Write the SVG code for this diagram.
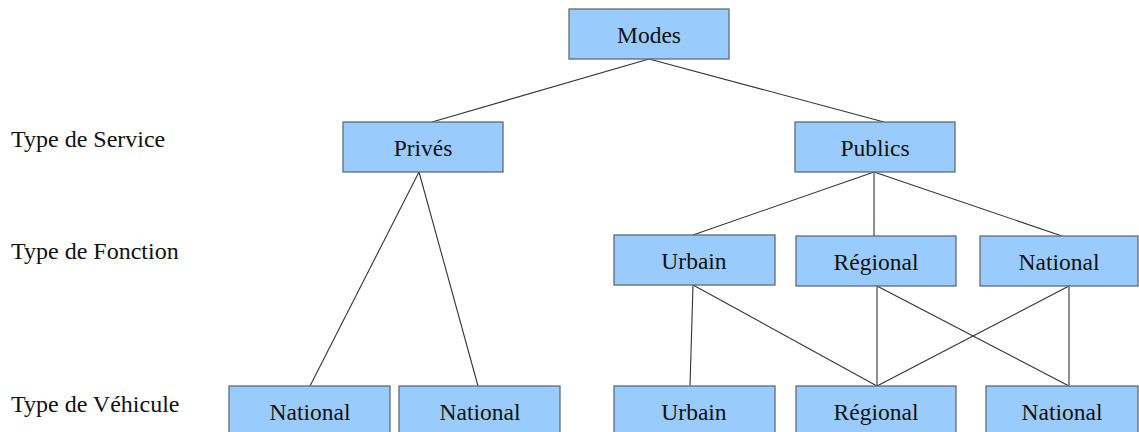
<svg xmlns="http://www.w3.org/2000/svg" width="1139" height="432" viewBox="0 0 1139 432">
<style>
.box{fill:#99ccfd;stroke:#5f6b78;stroke-width:1.3}
.t{font-family:'Liberation Serif', 'Times New Roman', serif;font-size:23.5px;fill:#111}
.lb{font-size:24px}
.c{text-anchor:middle}
.ln{stroke:#333;stroke-width:1.1;fill:none}
</style>
<rect width="1139" height="432" fill="#fff"/>
<g id="labels">
<text class="t lb" x="11" y="147">Type de Service</text>
<text class="t lb" x="11" y="259">Type de Fonction</text>
<text class="t lb" x="11" y="412">Type de Véhicule</text>
</g>
<g id="connectors">
<line class="ln" x1="649" y1="59" x2="432" y2="122"/>
<line class="ln" x1="649" y1="59" x2="884" y2="122"/>
<line class="ln" x1="874" y1="172" x2="693" y2="235"/>
<line class="ln" x1="874" y1="172" x2="874" y2="236"/>
<line class="ln" x1="874" y1="172" x2="1062" y2="236"/>
<line class="ln" x1="419" y1="172" x2="310" y2="386"/>
<line class="ln" x1="419" y1="172" x2="478" y2="386"/>
<line class="ln" x1="693" y1="285" x2="690" y2="386"/>
<line class="ln" x1="693" y1="285" x2="877" y2="386"/>
<line class="ln" x1="877" y1="286" x2="877" y2="386"/>
<line class="ln" x1="877" y1="286" x2="1069" y2="386"/>
<line class="ln" x1="1069" y1="286" x2="877" y2="386"/>
<line class="ln" x1="1069" y1="286" x2="1069" y2="386"/>
</g>
<g id="modes"><rect class="box" x="569" y="9" width="160" height="50"/><text class="t c" x="649" y="43">Modes</text></g>
<g id="prives"><rect class="box" x="343" y="122" width="160" height="50"/><text class="t c" x="423" y="156">Privés</text></g>
<g id="publics"><rect class="box" x="795" y="122" width="160" height="50"/><text class="t c" x="875" y="156">Publics</text></g>
<g id="f-urbain"><rect class="box" x="614" y="235" width="161" height="50"/><text class="t c" x="694" y="269">Urbain</text></g>
<g id="f-regional"><rect class="box" x="796" y="236" width="160" height="50"/><text class="t c" x="876" y="270">Régional</text></g>
<g id="f-national"><rect class="box" x="980" y="236" width="158" height="50"/><text class="t c" x="1059" y="270">National</text></g>
<g id="v-national1"><rect class="box" x="229" y="386" width="161" height="50"/><text class="t c" x="310" y="420">National</text></g>
<g id="v-national2"><rect class="box" x="399" y="386" width="161" height="50"/><text class="t c" x="480" y="420">National</text></g>
<g id="v-urbain"><rect class="box" x="614" y="386" width="161" height="50"/><text class="t c" x="694" y="420">Urbain</text></g>
<g id="v-regional"><rect class="box" x="796" y="386" width="160" height="50"/><text class="t c" x="876" y="420">Régional</text></g>
<g id="v-national3"><rect class="box" x="986" y="386" width="152" height="50"/><text class="t c" x="1062" y="420">National</text></g>
</svg>
